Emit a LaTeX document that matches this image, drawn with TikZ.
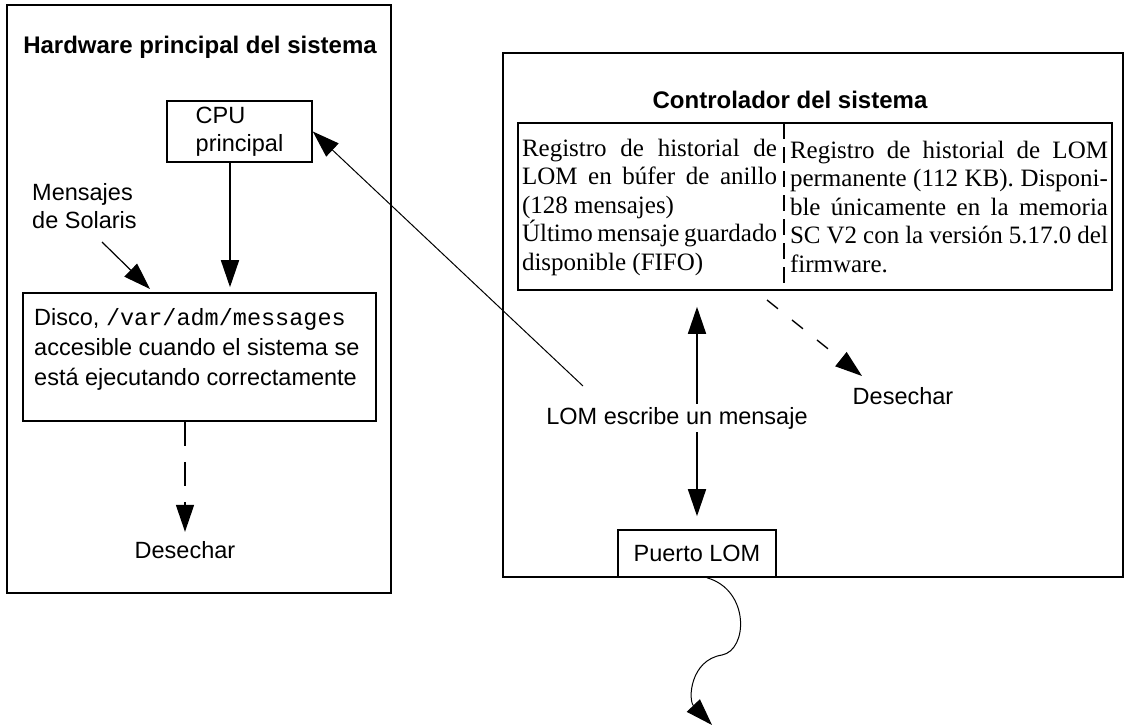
\documentclass[tikz,border=0pt]{standalone}
\usepackage{fontspec}
\setmainfont{Liberation Serif}
\setsansfont{Liberation Sans}
\setmonofont{Liberation Mono}
\usetikzlibrary{arrows.meta}
\tikzset{
  txt/.style={font=\sffamily\fontsize{23.5}{28}\selectfont},
  ttl/.style={font=\sffamily\bfseries\fontsize{24}{28}\selectfont},
  regtxt/.style={font=\rmfamily\fontsize{25}{28.5}\selectfont, align=justify, inner sep=0pt},
  box/.style={draw, line width=1.6pt},
  tip/.style={-{Triangle[length=27pt,width=18pt]}},
  dashline/.style={dash pattern=on 24pt off 16pt},
}
\begin{document}
\begin{tikzpicture}[x=1pt,y=-1pt]
      \useasboundingbox (0,0) rectangle (1125,728);
      % hardware principal
      \draw[box] (7,5) rectangle (391,593);
      \node[ttl] (hwtitle) at (200,47) {Hardware principal del sistema};
      \node[box, txt, align=left, minimum width=145pt, minimum height=61pt] (cpu) at (239.5,131.5) {CPU\\principal};
      \node[txt, align=left, anchor=north west, inner sep=0pt] (msg) at (32,183) {Mensajes\\de Solaris};
      \node[box, minimum width=353pt, minimum height=128pt] (disco) at (199.5,357) {};
      \node[txt, align=left, anchor=north west, inner sep=0pt, font=\sffamily\fontsize{23.5}{30}\selectfont] (discotxt) at (34,308)
        {Disco, \texttt{/var/adm/messages}\\accesible cuando el sistema se\\está ejecutando correctamente};
      \node[txt] (des1) at (185,550) {Desechar}; % bottom left
      \coordinate (soltail) at (102,242);
      \coordinate (solhead) at (150,289);
      \draw[tip, line width=1.2pt] (soltail) -- (solhead);
      \draw[tip, line width=1.6pt, shorten >=5pt] ([xshift=-9.5pt]cpu.south) -- ([xshift=-9.5pt]cpu.south |- disco.north);
      \draw[tip, line width=1.6pt, dashline, shorten >=6pt] (des1.north |- disco.south) -- (des1.north);

      % controlador del sistema
      \draw[box] (503,53) rectangle (1123,577);
      \node[ttl] (sctitle) at (790,100) {Controlador del sistema};
      \node[box, minimum width=594pt, minimum height=167pt] (reg) at (815,206.5) {};
      \node[regtxt, text width=255pt] (regleft) at (649.5,207)
        {Registro de historial de\linebreak LOM en búfer de anillo\linebreak (128 mensajes)\par
         Último mensaje guardado\linebreak disponible (FIFO)};
      \node[regtxt, text width=318pt] (regright) at (949,207)
        {Registro de historial de LOM\linebreak permanente (112 KB). Disponi-\linebreak
         ble únicamente en la memoria\linebreak SC V2 con la versión 5.17.0 del\linebreak firmware.};
      \coordinate (divtop) at (784,123);
      \coordinate (divbot) at (784,290);
      \draw[line width=1.6pt, dash pattern=on 16pt off 8pt] (divtop) -- (divbot);
      \node[box, txt, minimum width=158pt, minimum height=47pt] (puerto) at (697,553.5) {Puerto LOM};
      \node[txt] (lom) at (677,418) {LOM escribe un mensaje};
      \node[txt] (des2) at (903,396) {Desechar}; % right
      \coordinate (uptail) at (lom.north -| puerto.north);
      \coordinate (downtail) at (lom.south -| puerto.north);
      \draw[tip, line width=1.6pt, shorten >=16pt] (uptail) -- (uptail |- reg.south);
      \draw[tip, line width=1.6pt, shorten >=13pt] (downtail) -- (puerto.north);
      \coordinate (lomtail) at (583,386);
      \draw[tip, line width=1pt] (lomtail) -- (cpu.east);
      \coordinate (regtail) at (767,300);
      \coordinate (deshead) at (862,376);
      \draw[tip, line width=1.4pt, dash pattern=on 14pt off 18pt] (regtail) -- (deshead);
      % salida del puerto
      \coordinate (outhead) at (712,725);
      \draw[tip, line width=1pt] ([xshift=10pt]puerto.south) .. controls (750,590) and (748,650) .. (722,655)
        .. controls (690,660) and (688,700) .. (outhead);
\end{tikzpicture}
\end{document}
